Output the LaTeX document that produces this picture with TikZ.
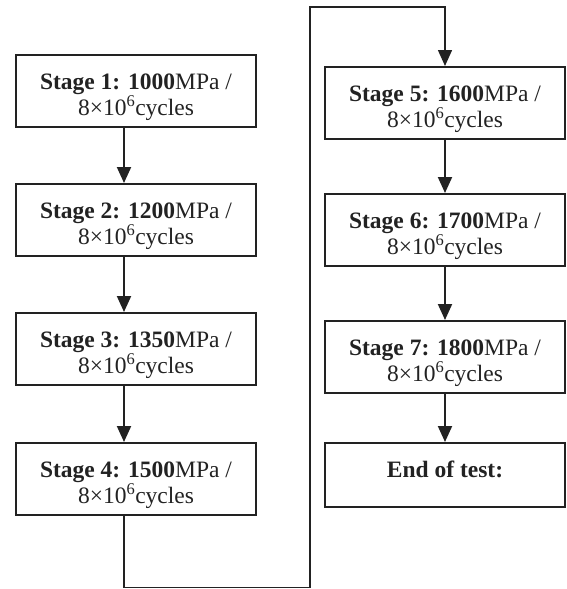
\documentclass[tikz,border=0pt]{standalone}
\usepackage{fontspec}
\setmainfont{Liberation Serif}
\usetikzlibrary{arrows.meta,calc}
\definecolor{ink}{HTML}{222222}
\begin{document}
\begin{tikzpicture}[x=1pt,y=-1pt,
  stagebox/.style={draw=ink, line width=2pt, minimum width=240pt, minimum height=72pt,
    inner sep=0pt, align=center, text=ink, font=\fontsize{23.5}{26}\selectfont},
  endbox/.style={stagebox, minimum height=64pt},
  flow/.style={draw=ink, line width=2pt, -{Triangle[length=16pt,width=14pt]}},
  loopline/.style={flow, line width=1.5pt}]
\useasboundingbox (0,0) rectangle (566,589);
\node[stagebox] (s1) at (136,91)  {\rule{0pt}{29pt}\textbf{Stage 1: 1000}MPa /\\8×10\textsuperscript{6}cycles};
\node[stagebox] (s2) at (136,220) {\rule{0pt}{29pt}\textbf{Stage 2: 1200}MPa /\\8×10\textsuperscript{6}cycles};
\node[stagebox] (s3) at (136,349) {\rule{0pt}{29pt}\textbf{Stage 3: 1350}MPa /\\8×10\textsuperscript{6}cycles};
\node[stagebox] (s4) at (136,479) {\rule{0pt}{29pt}\textbf{Stage 4: 1500}MPa /\\8×10\textsuperscript{6}cycles};
\node[stagebox] (s5) at (445,103) {\rule{0pt}{29pt}\textbf{Stage 5: 1600}MPa /\\8×10\textsuperscript{6}cycles};
\node[stagebox] (s6) at (445,230) {\rule{0pt}{29pt}\textbf{Stage 6: 1700}MPa /\\8×10\textsuperscript{6}cycles};
\node[stagebox] (s7) at (445,357) {\rule{0pt}{29pt}\textbf{Stage 7: 1800}MPa /\\8×10\textsuperscript{6}cycles};
\node[endbox] (e) at (445,475) {\rule[-12pt]{0pt}{12pt}\textbf{End of test:}};
\coordinate (ax) at (124,0);
\coordinate (b1) at (310,587.5);
\coordinate (b2) at (310,7);
\draw[flow] (s1.south -| ax) -- (s2.north -| ax);
\draw[flow] (s2.south -| ax) -- (s3.north -| ax);
\draw[flow] (s3.south -| ax) -- (s4.north -| ax);
\draw[flow] (s5.south) -- (s6.north);
\draw[flow] (s6.south) -- (s7.north);
\draw[flow] (s7.south) -- (e.north);
\draw[loopline] (s4.south -| ax) |- (b1) -- (b2) -| (s5.north);
\end{tikzpicture}
\end{document}
